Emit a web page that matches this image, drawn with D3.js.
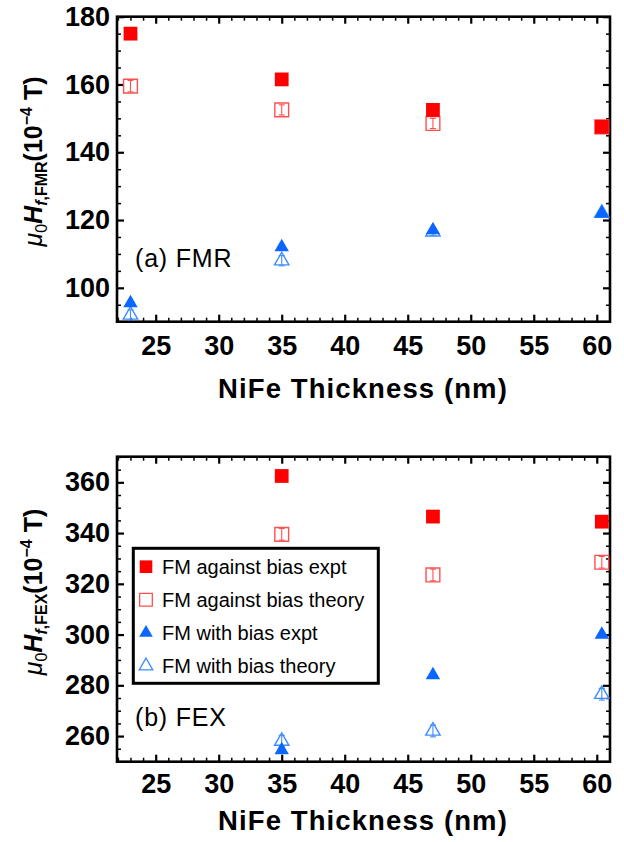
<!DOCTYPE html>
<html>
<head>
<meta charset="utf-8">
<script src="https://cdn.jsdelivr.net/npm/d3@7"></script>
<style>
  body { margin: 0; background: #fff; }
  svg { font-family: "Liberation Sans", Arial, sans-serif; }
</style>
</head>
<body>
<svg width="624" height="842"></svg>
<script>
// thickness of NiFe layer (nm)
const thickFMR = [23, 35, 47, 60.4];
const thickFEX = [35, 47, 60.4];

// (a) FMR, 10^-4 T
const fmrAgainstExpt = [175, 161.5, 152.5, 147.5];
const fmrAgainstTheory = [159.5, 152.5, 148.5, 147.5];
const fmrAgainstErr = [1.7, 1.5, 1.5, 1.5];
const fmrWithExpt = [95.5, 112, 117, 122];
const fmrWithTheory = [92, 108, 116.5, 122];
const fmrWithErr = [1.5, 1.5, 1.0, 1.0];

// (b) FEX, 10^-4 T
const fexAgainstExpt = [362.5, 346.5, 344.5];
const fexAgainstTheory = [339.5, 323.5, 328.5];
const fexAgainstErr = [2.3, 2.3, 2.3];
const fexWithExpt = [254.5, 284, 300];
const fexWithTheory = [258, 262, 276.5];
const fexWithErr = [2.3, 2.3, 2.3];

const xTickVals = [25, 30, 35, 40, 45, 50, 55, 60];
const fmrYTicks = [100, 120, 140, 160, 180];
const fexYTicks = [260, 280, 300, 320, 340, 360];

const legendLabels = ["FM against bias expt", "FM against bias theory",
                      "FM with bias expt", "FM with bias theory"];

const red = "#ff0000", redOpen = "#ff5050";
const blue = "#0a66ff", blueOpen = "#3f8cff";

const svg = d3.select("svg");

const sq = d3.symbol().type(d3.symbolSquare).size(190);
const tri = d3.symbol().type(d3.symbolTriangle).size(90);

function drawPanel(p) {
  const x = d3.scaleLinear().domain([21.93, 61.05]).range([117, 610]);
  const y = d3.scaleLinear().domain(p.yDomain).range([p.bottom, p.top]);
  const g = svg.append("g");

  // minor ticks
  const xMinor = d3.range(22, 62, 1).filter(v => v % 5 !== 0);
  const yMinor = d3.range(Math.ceil(p.yDomain[0] / 5) * 5, p.yDomain[1] + 0.01, 5).filter(v => v % 20 !== 0);

  const axes = [
    [d3.axisBottom(x), `translate(0,${p.bottom})`, xTickVals, xMinor, true],
    [d3.axisTop(x), `translate(0,${p.top})`, xTickVals, xMinor, false],
    [d3.axisLeft(y), `translate(117,0)`, p.yTicks, yMinor, true],
    [d3.axisRight(y), `translate(610,0)`, p.yTicks, yMinor, false]
  ];
  axes.forEach(([ax, tr, major, minor]) => {
    g.append("g").attr("transform", tr)
      .call(ax.tickValues(minor).tickSizeInner(-4).tickSizeOuter(0).tickFormat(""))
      .call(a => a.select(".domain").remove())
      .call(a => a.selectAll("line").attr("stroke-width", 1.5));
  });
  axes.forEach(([ax, tr, major, minor, labels], i) => {
    const vertical = i >= 2;
    const axg = g.append("g").attr("transform", tr)
      .call(ax.tickValues(major).tickSizeInner(-7).tickSizeOuter(0)
        .tickPadding(vertical ? 7 : p.xPad)
        .tickFormat(labels ? d3.format("d") : ""));
    axg.select(".domain").remove();
    axg.selectAll("line").attr("stroke-width", 2.2);
    axg.selectAll("text").attr("font-size", 27).attr("font-weight", "bold")
      .attr("fill", "#000").attr("font-family", "Liberation Sans, Arial, sans-serif");
  });

  // frame
  g.append("rect").attr("x", 117).attr("y", p.top)
    .attr("width", 610 - 117).attr("height", p.bottom - p.top)
    .attr("fill", "none").attr("stroke", "#000").attr("stroke-width", 2.6);

  const thick = p.thick;
  const layers = [
    { vals: p.againstTheory, err: p.againstErr, shape: sq, col: redOpen, fill: false },
    { vals: p.withTheory, err: p.withErr, shape: tri, col: blueOpen, fill: false },
    { vals: p.againstExpt, shape: sq, col: red, fill: true },
    { vals: p.withExpt, shape: tri, col: blue, fill: true }
  ];
  layers.forEach(L => {
    const pts = L.vals.map((v, i) => ({ x: thick[i], y: v, e: L.err ? L.err[i] : 0 }));
    const mg = g.append("g");
    mg.selectAll("path.m").data(pts).join("path")
      .attr("class", "m")
      .attr("transform", d => `translate(${x(d.x)},${y(d.y)})`)
      .attr("d", L.shape)
      .attr("fill", L.fill ? L.col : "none")
      .attr("stroke", L.fill ? "none" : L.col)
      .attr("stroke-width", 1.4);
    if (L.err) {
      const eg = mg.selectAll("g.err").data(pts).join("g").attr("class", "err")
        .attr("stroke", L.col).attr("stroke-width", 1.1);
      eg.append("line").attr("x1", d => x(d.x)).attr("x2", d => x(d.x))
        .attr("y1", d => y(d.y - d.e)).attr("y2", d => y(d.y + d.e));
      eg.append("line").attr("x1", d => x(d.x) - 3).attr("x2", d => x(d.x) + 3)
        .attr("y1", d => y(d.y - d.e)).attr("y2", d => y(d.y - d.e));
      eg.append("line").attr("x1", d => x(d.x) - 3).attr("x2", d => x(d.x) + 3)
        .attr("y1", d => y(d.y + d.e)).attr("y2", d => y(d.y + d.e));
    }
  });

  // panel label
  g.append("text").attr("x", 135).attr("y", p.labelY)
    .attr("font-size", 25).attr("letter-spacing", 0.8).text(p.label);

  // x title
  g.append("text").attr("x", 363).attr("y", p.titleBase)
    .attr("text-anchor", "middle").attr("font-size", 27.5).attr("font-weight", "bold")
    .attr("letter-spacing", 1.1)
    .text("NiFe Thickness (nm)");

  // y title
  const yt = g.append("text")
    .attr("transform", `translate(42,${p.titleY}) rotate(-90)`)
    .attr("text-anchor", "middle").attr("font-size", 25).attr("font-weight", "bold");
  yt.append("tspan").attr("font-style", "italic").attr("font-weight", "normal").text("μ");
  yt.append("tspan").attr("font-size", 16).attr("font-weight", "normal").attr("dy", 5).text("0");
  yt.append("tspan").attr("font-style", "italic").attr("dy", -5).text("H");
  yt.append("tspan").attr("font-size", 16).attr("font-style", "italic").attr("dy", 5).text("f");
  yt.append("tspan").attr("font-size", 16).text("," + p.sub);
  yt.append("tspan").attr("dy", -5).text("(10");
  yt.append("tspan").attr("font-size", 16).attr("dy", -10).text("−4");
  yt.append("tspan").attr("dy", 10).text(" T)");

  return g;
}

drawPanel({
  top: 16.7, bottom: 321.7, yDomain: [90, 180], yTicks: fmrYTicks,
  thick: thickFMR,
  againstExpt: fmrAgainstExpt, againstTheory: fmrAgainstTheory, againstErr: fmrAgainstErr,
  withExpt: fmrWithExpt, withTheory: fmrWithTheory, withErr: fmrWithErr,
  label: "(a) FMR", labelY: 267, sub: "FMR", titleY: 161.5, titleBase: 398, xPad: 14
});

drawPanel({
  top: 456.7, bottom: 761.7, yDomain: [249.9, 370.1], yTicks: fexYTicks,
  thick: thickFEX,
  againstExpt: fexAgainstExpt, againstTheory: fexAgainstTheory, againstErr: fexAgainstErr,
  withExpt: fexWithExpt, withTheory: fexWithTheory, withErr: fexWithErr,
  label: "(b) FEX", labelY: 726, sub: "FEX", titleY: 592, titleBase: 830, xPad: 12
});

// legend
const lg = svg.append("g");
lg.append("rect").attr("x", 133.3).attr("y", 548.3).attr("width", 245).attr("height", 135)
  .attr("fill", "#fff").attr("stroke", "#000").attr("stroke-width", 3);
const legY = d3.scalePoint().domain(legendLabels).range([566.7, 666]);
const legendMarks = [
  { shape: sq, col: red, fill: true },
  { shape: sq, col: redOpen, fill: false },
  { shape: tri, col: blue, fill: true },
  { shape: tri, col: blueOpen, fill: false }
];
legendLabels.forEach((lab, i) => {
  const m = legendMarks[i];
  lg.append("path").attr("transform", `translate(146,${legY(lab)})`)
    .attr("d", m.shape.size(m.shape === sq ? 160 : 80))
    .attr("fill", m.fill ? m.col : "none").attr("stroke", m.fill ? "none" : m.col)
    .attr("stroke-width", 1.3);
  lg.append("text").attr("x", 162).attr("y", legY(lab)).attr("dy", "0.35em")
    .attr("font-size", 20).text(lab);
});
</script>
</body>
</html>
